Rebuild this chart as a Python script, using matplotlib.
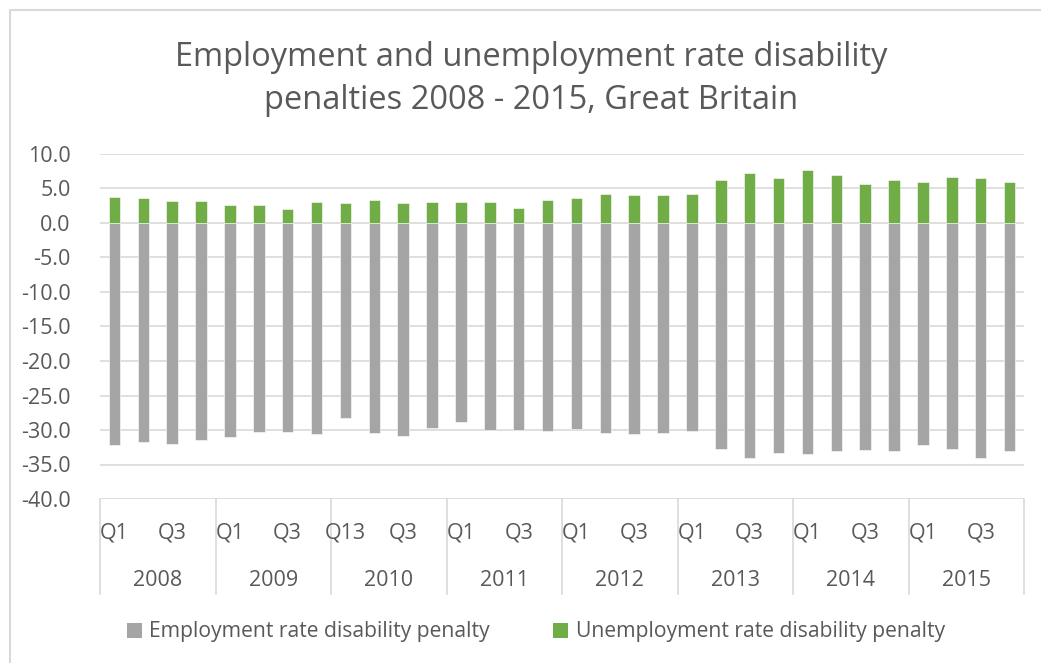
import matplotlib.pyplot as plt
from matplotlib.patches import Patch, Rectangle

# === DATA ===
years = ["2008", "2009", "2010", "2011", "2012", "2013", "2014", "2015"]
# label shown under Q1 and Q3 of each year (2010 Q1 label is as published)
quarter_labels = ["Q1", "Q3", "Q1", "Q3", "Q13", "Q3", "Q1", "Q3",
                  "Q1", "Q3", "Q1", "Q3", "Q1", "Q3", "Q1", "Q3"]
employment_penalty = [
    -32.2, -31.7, -32.1, -31.4,
    -31.0, -30.3, -30.3, -30.6,
    -28.2, -30.4, -30.9, -29.7,
    -28.9, -30.0, -30.0, -30.1,
    -29.8, -30.5, -30.6, -30.4,
    -30.1, -32.8, -34.0, -33.4,
    -33.5, -33.0, -32.9, -33.1,
    -32.2, -32.8, -34.1, -33.1,
]
unemployment_penalty = [
    3.7, 3.6, 3.2, 3.2,
    2.6, 2.6, 2.1, 3.0,
    2.9, 3.4, 2.9, 3.1,
    3.1, 3.1, 2.2, 3.4,
    3.6, 4.2, 4.1, 4.0,
    4.2, 6.3, 7.3, 6.5,
    7.7, 7.0, 5.7, 6.2,
    6.0, 6.6, 6.5, 6.0,
]

TEXT = "#595959"
GRID = "#d9d9d9"
GREY_BAR = "#a5a5a5"
GREEN_BAR = "#70ad47"

plt.rcParams["font.family"] = ["Open Sans", "DejaVu Sans"]

fig = plt.figure(figsize=(10.41, 6.63), dpi=100)
fig.patch.set_facecolor("white")
# chart-area frame
fig.patches.append(Rectangle((10 / 1041, -0.05), 1.2, 1 - 10 / 663 + 0.05,
                             transform=fig.transFigure, fill=False,
                             edgecolor=GRID, linewidth=1.5))

ax = fig.add_axes([100 / 1041, 1 - 499 / 663, 924 / 1041, 345 / 663])
x = list(range(len(employment_penalty)))

ax.bar(x, employment_penalty, width=0.4, color=GREY_BAR, edgecolor="white",
       linewidth=0.4, zorder=3)
ax.bar(x, unemployment_penalty, width=0.4, color=GREEN_BAR, edgecolor="white",
       linewidth=0.4, zorder=3)

ax.set_xlim(-0.5, len(x) - 0.5)
ax.set_ylim(-40, 10)
yticks = list(range(-40, 11, 5))
ax.set_yticks(yticks)
ax.set_yticklabels([f"{v:.1f}" for v in yticks], fontsize=15.5, color=TEXT)
ax.tick_params(axis="y", length=0, pad=21)
ax.set_xticks([])
for v in yticks:
    ax.axhline(v, color=GRID, linewidth=1.2, zorder=1)
for s in ax.spines.values():
    s.set_visible(False)

# two-level category axis: quarters then years, with year separators
trans = ax.get_xaxis_transform()
for k in range(len(years) + 1):
    ax.plot([4 * k - 0.5, 4 * k - 0.5], [0, -0.275], transform=trans,
            color=GRID, linewidth=1.2, clip_on=False)
q_pos = [i for i in x if i % 2 == 0]
for pos, lab in zip(q_pos, quarter_labels):
    ax.text(pos, -0.098, lab, transform=trans, ha="center", va="center",
            fontsize=15.5, color=TEXT)
for k, yr in enumerate(years):
    ax.text(4 * k + 1.5, -0.235, yr, transform=trans, ha="center",
            va="center", fontsize=15.5, color=TEXT)

fig.text(531 / 1041, 1 - 79 / 663,
         "Employment and unemployment rate disability\npenalties 2008 - 2015, Great Britain",
         ha="center", va="center", fontsize=23.5, color=TEXT, linespacing=1.4)

handles = [Patch(facecolor=GREY_BAR, label="Employment rate disability penalty"),
           Patch(facecolor=GREEN_BAR, label="Unemployment rate disability penalty")]
leg = fig.legend(handles=handles, loc="center", bbox_to_anchor=(536 / 1041, 1 - 632 / 663),
                 ncol=2, frameon=False, fontsize=15.2, handlelength=0.7,
                 handleheight=0.7, handletextpad=0.35, columnspacing=3.0)
for t in leg.get_texts():
    t.set_color(TEXT)

fig.savefig("out.png", dpi=100)
